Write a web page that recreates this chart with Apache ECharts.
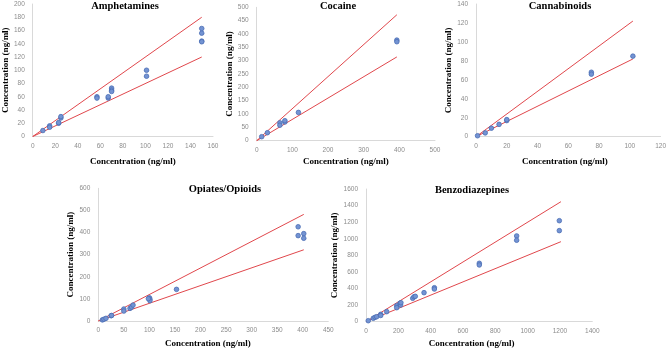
<!DOCTYPE html>
<html>
<head>
<meta charset="utf-8">
<script src="https://cdn.jsdelivr.net/npm/echarts@6/dist/echarts.min.js"></script>
<style>
  html, body { margin: 0; padding: 0; background: #fff; }
  #main { width: 669px; height: 349px; }
</style>
</head>
<body>
<div id="main"></div>
<script>
var titles = ['Amphetamines', 'Cocaine', 'Cannabinoids', 'Opiates/Opioids', 'Benzodiazepines'];

var amphPoints = [[9, 9], [15, 16], [15, 14], [23, 20], [23, 21], [25, 28], [25, 30],
    [57, 60], [57, 58], [67, 58], [67, 60], [70, 73], [70, 70], [70, 68],
    [101, 100], [101, 91], [150, 163], [150, 156], [150, 144], [150, 143]];
var cocaPoints = [[14, 15], [30, 30], [65, 67], [65, 58], [79, 70], [79, 75],
    [117, 106], [393, 377], [393, 371]];
var cannPoints = [[1, 1], [6, 4], [10, 9], [15, 13], [20, 17], [20, 18],
    [75, 68], [75, 66], [102, 85]];
var opiaPoints = [[8, 5], [11, 8], [15, 12], [25, 24], [26, 25], [50, 54], [50, 45],
    [62, 57], [65, 63], [68, 72], [100, 105], [101, 99], [101, 92], [98, 101],
    [153, 143], [391, 426], [391, 386], [402, 395], [402, 374]];
var benzPoints = [[14, 12], [45, 41], [56, 53], [66, 60], [91, 89], [91, 75],
    [128, 121], [190, 193], [190, 169], [210, 221], [214, 201], [216, 229],
    [289, 282], [297, 301], [305, 306], [359, 350], [423, 410], [423, 394],
    [701, 704], [701, 684], [932, 1034], [932, 982], [1196, 1218], [1196, 1098]];

// +20% / -20% limit lines (end points)
var upperLines = [
    [[0, 0], [150, 180]],
    [[0, 0], [393, 472]],
    [[0, 0], [102, 122]],
    [[0, 0], [402, 482]],
    [[0, 0], [1206, 1447]]
];
var lowerLines = [
    [[0, 0], [150, 120]],
    [[0, 0], [393, 314]],
    [[0, 0], [102, 82]],
    [[0, 0], [402, 322]],
    [[0, 0], [1206, 965]]
];

// axis ranges: [max, interval]
var xRanges = [[160, 20], [500, 100], [120, 20], [450, 50], [1400, 200]];
var yRanges = [[200, 20], [500, 50], [140, 20], [600, 100], [1600, 200]];

var allPoints = [amphPoints, cocaPoints, cannPoints, opiaPoints, benzPoints];

// layout of each panel
var grids = [
    {left: 28.5, top: 4, width: 184.5, height: 132.5},
    {left: 256.7, top: 7.3, width: 178.3, height: 133.4},
    {left: 476, top: 4, width: 187.3, height: 132.7},
    {left: 98.3, top: 188.3, width: 230, height: 132.7},
    {left: 366, top: 189, width: 226.3, height: 132.7}
];
var titlePos = [[125, 0.5], [338, 0.5], [560, 1], [225, 184], [472, 185]];
var xNameGap = [20.5, 16.5, 20.5, 17.8, 17];
var xNamePad = [[0, 0, 0, 20], [0, 0, 0, 0], [0, 7, 0, 0], [0, 11, 0, 0], [0, 15, 0, 0]];
var yNameGap = [19, 20, 22.5, 21.5, 24.5];

var serif = 'Liberation Serif, Times New Roman, serif';
var axisName = 'Concentration (ng/ml)';
var plainNum = function (v) { return String(v); };

var dom = document.getElementById('main');
var myChart = echarts.init(dom);

var xAxes = [], yAxes = [], series = [], graphics = [];
for (var i = 0; i < 5; i++) {
    xAxes.push({
        type: 'value', gridIndex: i, min: 0, max: xRanges[i][0], interval: xRanges[i][1],
        name: axisName, nameLocation: 'middle', nameGap: xNameGap[i],
        nameTextStyle: {fontFamily: serif, fontWeight: 'bold', fontSize: 9, color: '#000', padding: xNamePad[i]},
        axisLine: {lineStyle: {color: '#d9d9d9', width: 1}},
        axisTick: {show: false},
        splitLine: {show: false},
        axisLabel: {fontSize: 6.5, color: '#8c8c8c', margin: 6, fontFamily: 'Liberation Sans, Arial', formatter: plainNum}
    });
    yAxes.push({
        type: 'value', gridIndex: i, min: 0, max: yRanges[i][0], interval: yRanges[i][1],
        name: axisName, nameLocation: 'middle', nameGap: yNameGap[i], nameRotate: 90,
        nameTextStyle: {fontFamily: serif, fontWeight: 'bold', fontSize: 9, color: '#000'},
        axisLine: {show: true, lineStyle: {color: '#d9d9d9', width: 1}},
        axisTick: {show: false},
        splitLine: {show: false},
        axisLabel: {fontSize: 6.5, color: '#8c8c8c', margin: 8, fontFamily: 'Liberation Sans, Arial', formatter: plainNum}
    });
    series.push({
        type: 'line', xAxisIndex: i, yAxisIndex: i, data: upperLines[i],
        showSymbol: false, silent: true, z: 2,
        lineStyle: {color: '#e0474c', width: 1}
    });
    series.push({
        type: 'line', xAxisIndex: i, yAxisIndex: i, data: lowerLines[i],
        showSymbol: false, silent: true, z: 2,
        lineStyle: {color: '#e0474c', width: 1}
    });
    series.push({
        type: 'scatter', xAxisIndex: i, yAxisIndex: i, data: allPoints[i],
        symbolSize: 4.6, z: 3,
        itemStyle: {color: '#7393d2', borderColor: '#4a6db5', borderWidth: 0.8, opacity: 1}
    });
    graphics.push({
        type: 'text', x: titlePos[i][0], y: titlePos[i][1],
        style: {text: titles[i], textAlign: 'center', fill: '#000',
            font: 'bold 10.5px ' + serif}
    });
}

var option = {
    animation: false,
    grid: grids,
    xAxis: xAxes,
    yAxis: yAxes,
    series: series,
    graphic: graphics
};
myChart.setOption(option, true);
</script>
</body>
</html>
